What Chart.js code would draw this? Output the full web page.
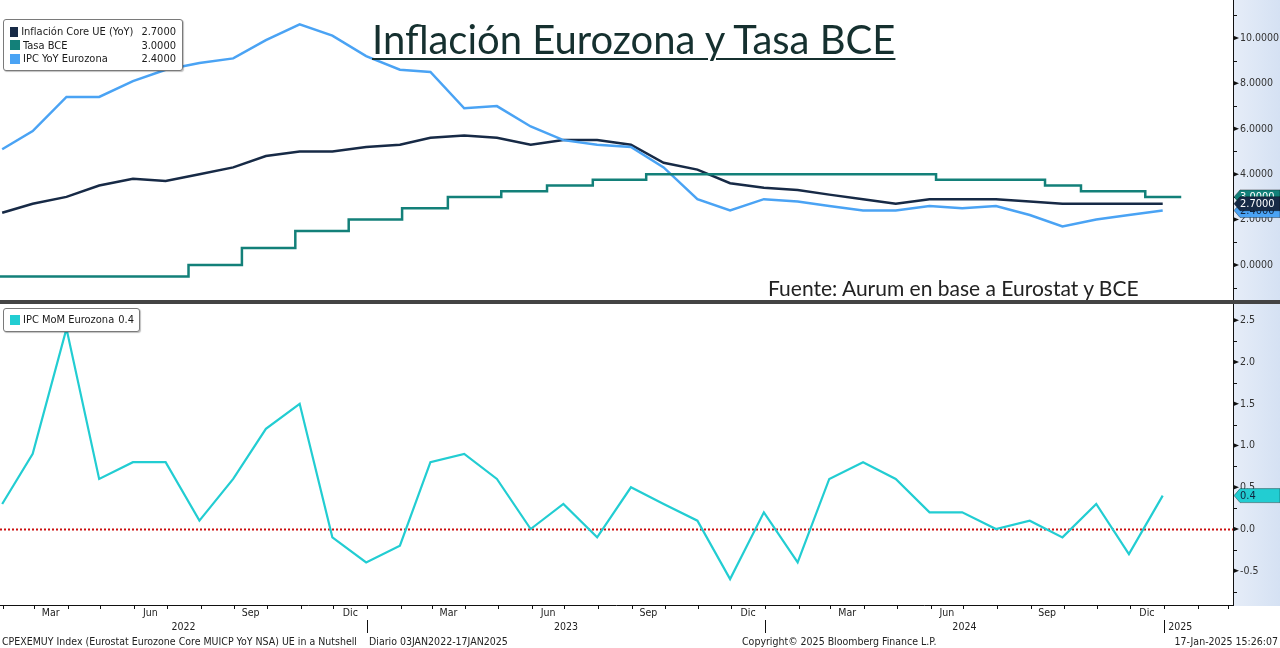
<!DOCTYPE html>
<html lang="es">
<head>
<meta charset="utf-8">
<title>Inflación Eurozona y Tasa BCE</title>
<script src="https://cdn.jsdelivr.net/npm/chart.js@4.4.1/dist/chart.umd.min.js"></script>
<style>
  body { margin: 0; width: 1280px; height: 648px; position: relative; overflow: hidden; background: #fff; font-family: "DejaVu Sans Condensed", "DejaVu Sans", sans-serif; color: #222; }
  .franja { position: absolute; left: 1233px; top: 0; width: 47px; height: 606px; background: linear-gradient(to right, #e6edf8, #d5e1f3); }
  .separador { position: absolute; left: 0; top: 300px; width: 1280px; height: 4px; background: #444; }
  #arriba { position: absolute; left: 0; top: 0; }
  #abajo { position: absolute; left: 0; top: 304px; }
  .titulo { position: absolute; left: 372px; top: 15px; font-family: Lato, sans-serif; font-size: 40px; color: #15302f; text-decoration: underline; text-decoration-thickness: 2px; text-underline-offset: 4px; white-space: nowrap; }
  .fuente { position: absolute; left: 768px; top: 275px; font-family: Lato, sans-serif; font-size: 21px; color: #222; white-space: nowrap; }
  .leyenda { position: absolute; background: #fff; border: 1px solid #7a7a7a; border-radius: 3px; box-shadow: 1px 1px 1px rgba(0,0,0,0.25); font-size: 11px; color: #1a1a1a; padding: 5px 6px 4px 6px; }
  .fila { display: flex; align-items: center; height: 13.5px; white-space: nowrap; }
  .cuadro { width: 10px; height: 10px; margin-right: 3px; }
  .valor { margin-left: auto; padding-left: 8px; }
  .pie { position: absolute; top: 635px; font-size: 10.5px; white-space: nowrap; color: #222; }
</style>
</head>
<body>
<div class="franja"></div>
<canvas id="arriba" width="1280" height="300"></canvas>
<div class="separador"></div>
<canvas id="abajo" width="1280" height="344"></canvas>

<div class="titulo">Inflación Eurozona y Tasa BCE</div>
<div class="fuente">Fuente: Aurum en base a Eurostat y BCE</div>

<div class="leyenda" style="left:3px;top:19px;width:166px">
  <div class="fila"><span class="cuadro" style="background:#172a46"></span><span>Inflación Core UE (YoY)</span><span class="valor" id="vCore"></span></div>
  <div class="fila"><span class="cuadro" style="background:#138079"></span><span>Tasa BCE</span><span class="valor" id="vTasa"></span></div>
  <div class="fila"><span class="cuadro" style="background:#4aa3f4"></span><span>IPC YoY Eurozona</span><span class="valor" id="vIpc"></span></div>
</div>
<div class="leyenda" style="left:3px;top:308px;padding:4px 5px 4px 6px">
  <div class="fila"><span class="cuadro" style="background:#22cdd2"></span><span>IPC MoM Eurozona</span><span id="vMom" style="padding-left:4px"></span></div>
</div>

<div class="pie" style="left:2px">CPEXEMUY Index (Eurostat Eurozone Core MUICP YoY NSA) UE in a Nutshell</div>
<div class="pie" style="left:369px">Diario 03JAN2022-17JAN2025</div>
<div class="pie" style="left:742px">Copyright© 2025 Bloomberg Finance L.P.</div>
<div class="pie" style="right:2px">17-Jan-2025 15:26:07</div>

<script>
// Datos mensuales (fin de mes)
const meses = [
  "2022-01", "2022-02", "2022-03", "2022-04", "2022-05", "2022-06", "2022-07", "2022-08", "2022-09", "2022-10", "2022-11", "2022-12",
  "2023-01", "2023-02", "2023-03", "2023-04", "2023-05", "2023-06", "2023-07", "2023-08", "2023-09", "2023-10", "2023-11", "2023-12",
  "2024-01", "2024-02", "2024-03", "2024-04", "2024-05", "2024-06", "2024-07", "2024-08", "2024-09", "2024-10", "2024-11", "2024-12",
]
const coreYoY = [2.3, 2.7, 3.0, 3.5, 3.8, 3.7, 4.0, 4.3, 4.8, 5.0, 5.0, 5.2, 5.3, 5.6, 5.7, 5.6, 5.3, 5.5, 5.5, 5.3, 4.5, 4.2, 3.6, 3.4, 3.3, 3.1, 2.9, 2.7, 2.9, 2.9, 2.9, 2.8, 2.7, 2.7, 2.7, 2.7]
const ipcYoY = [5.1, 5.9, 7.4, 7.4, 8.1, 8.6, 8.9, 9.1, 9.9, 10.6, 10.1, 9.2, 8.6, 8.5, 6.9, 7.0, 6.1, 5.5, 5.3, 5.2, 4.3, 2.9, 2.4, 2.9, 2.8, 2.6, 2.4, 2.4, 2.6, 2.5, 2.6, 2.2, 1.7, 2.0, 2.2, 2.4]
const ipcMoM = [0.3, 0.9, 2.4, 0.6, 0.8, 0.8, 0.1, 0.6, 1.2, 1.5, -0.1, -0.4, -0.2, 0.8, 0.9, 0.6, 0.0, 0.3, -0.1, 0.5, 0.3, 0.1, -0.6, 0.2, -0.4, 0.6, 0.8, 0.6, 0.2, 0.2, 0.0, 0.1, -0.1, 0.3, -0.3, 0.4]

// Tasa BCE (diaria, cambios)
const tasaFechas = ["2022-01-03", "2022-07-21", "2022-09-08", "2022-10-27", "2022-12-15", "2023-02-02", "2023-03-16", "2023-05-04", "2023-06-15", "2023-07-27", "2023-09-14", "2024-06-06", "2024-09-14", "2024-10-17", "2024-12-15", "2025-01-17"]
const tasaValores = [-0.5, 0.0, 0.75, 1.5, 2.0, 2.5, 3.0, 3.25, 3.5, 3.75, 4.0, 3.75, 3.5, 3.25, 3.0, 3.0]

// Ejes
const ticksArriba = [0, 2, 4, 6, 8, 10]
const menoresArriba = [-1, 1, 3, 5, 7, 9, 11]
const ticksAbajo = [-0.5, 0, 0.5, 1.0, 1.5, 2.0, 2.5]
const menoresAbajo = [-0.75, -0.25, 0.25, 0.75, 1.25, 1.75, 2.25]
const etiquetasMes = ["Mar", "Jun", "Sep", "Dic"]
const numerosMes = [3, 6, 9, 12]
const anios = [2022, 2023, 2024, 2025]
const fechaFin = "2025-01-17"

const colores = { core: "#172a46", tasa: "#138079", ipc: "#4aa3f4", mom: "#22cdd2" }

// dias desde 2022-01-01
const base = Date.UTC(2022, 0, 1)
const diaUTC = (y, m, d) => (Date.UTC(y, m - 1, d) - base) / 864e5
const dia = (s) => diaUTC(+s.slice(0, 4), +s.slice(5, 7), +s.slice(8, 10))
const finDeMes = (s) => diaUTC(+s.slice(0, 4), +s.slice(5, 7) + 1, 0)

const xMin = 28
const xMax = 28 + 1233 / 1.0897

const serie = (vals) => vals.map((v, i) => ({ x: finDeMes(meses[i]), y: v }))
const serieTasa = tasaFechas.map((f, i) => ({ x: dia(f), y: tasaValores[i] }))

document.getElementById("vCore").textContent = coreYoY[coreYoY.length - 1].toFixed(4)
document.getElementById("vTasa").textContent = tasaValores[tasaValores.length - 1].toFixed(4)
document.getElementById("vIpc").textContent = ipcYoY[ipcYoY.length - 1].toFixed(4)
document.getElementById("vMom").textContent = ipcMoM[ipcMoM.length - 1].toFixed(1)

function marcasEje(chart, mayores, menores) {
  const { ctx, chartArea, scales } = chart
  const x0 = chartArea.right
  ctx.save()
  ctx.strokeStyle = "#111"
  ctx.fillStyle = "#111"
  ctx.lineWidth = 1
  menores.forEach((v) => {
    const py = Math.round(scales.y.getPixelForValue(v)) + 0.5
    ctx.beginPath()
    ctx.moveTo(x0, py)
    ctx.lineTo(x0 + 4, py)
    ctx.stroke()
  })
  mayores.forEach((v) => {
    const py = scales.y.getPixelForValue(v)
    ctx.beginPath()
    ctx.moveTo(x0, py - 2.5)
    ctx.lineTo(x0 + 6, py)
    ctx.lineTo(x0, py + 2.5)
    ctx.closePath()
    ctx.fill()
  })
  ctx.restore()
}

function etiqueta(chart, valor, texto, fondo, colorTexto) {
  const { ctx, chartArea, scales } = chart
  const x0 = chartArea.right
  const y = scales.y.getPixelForValue(valor)
  ctx.save()
  ctx.beginPath()
  ctx.moveTo(x0 + 1, y)
  ctx.lineTo(x0 + 7, y - 7)
  ctx.lineTo(1280, y - 7)
  ctx.lineTo(1280, y + 7)
  ctx.lineTo(x0 + 7, y + 7)
  ctx.closePath()
  ctx.fillStyle = fondo
  ctx.fill()
  ctx.strokeStyle = "rgba(0,0,0,0.35)"
  ctx.lineWidth = 1
  ctx.stroke()
  ctx.fillStyle = colorTexto
  ctx.font = "11px 'DejaVu Sans Condensed'"
  ctx.textBaseline = "middle"
  ctx.fillText(texto, x0 + 7, y + 0.5)
  ctx.restore()
}

const ejeY = (min, max, mayores, decimales) => ({
  position: "right",
  min: min,
  max: max,
  afterFit: (s) => {
    s.width = 47
    // sin margen extra arriba/abajo por las etiquetas
    s.paddingTop = 0
    s.paddingBottom = 0
  },
  afterBuildTicks: (s) => { s.ticks = mayores.map((v) => ({ value: v })) },
  ticks: { callback: (v) => Number(v).toFixed(decimales), color: "#333", font: { size: 10.5, family: "DejaVu Sans Condensed" }, padding: 7, autoSkip: false },
  grid: { drawOnChartArea: false, drawTicks: false },
  border: { display: true, color: "#111", width: 1 },
})

const ejeX = { type: "linear", min: xMin, max: xMax, display: false }

// Panel superior
new Chart(document.getElementById("arriba"), {
  type: "line",
  data: {
    datasets: [
      { label: "Tasa BCE", data: serieTasa, borderColor: colores.tasa, borderWidth: 2.5, stepped: true, pointRadius: 0 },
      { label: "IPC YoY Eurozona", data: serie(ipcYoY), borderColor: colores.ipc, borderWidth: 2.5, pointRadius: 0, tension: 0 },
      { label: "Inflación Core UE (YoY)", data: serie(coreYoY), borderColor: colores.core, borderWidth: 2.5, pointRadius: 0, tension: 0 },
    ],
  },
  options: {
    responsive: false,
    animation: false,
    layout: { padding: 0 },
    plugins: { legend: { display: false }, tooltip: { enabled: false } },
    scales: { x: ejeX, y: ejeY(-1.54, 11.67, ticksArriba, 4) },
  },
  plugins: [{
    id: "ejeDerechoArriba",
    afterDraw(chart) {
      marcasEje(chart, ticksArriba, menoresArriba)
      etiqueta(chart, tasaValores[tasaValores.length - 1], tasaValores[tasaValores.length - 1].toFixed(4), colores.tasa, "#fff")
      etiqueta(chart, ipcYoY[ipcYoY.length - 1], ipcYoY[ipcYoY.length - 1].toFixed(4), colores.ipc, "#10243e")
      etiqueta(chart, coreYoY[coreYoY.length - 1], coreYoY[coreYoY.length - 1].toFixed(4), colores.core, "#fff")
    },
  }],
})

// Panel inferior
new Chart(document.getElementById("abajo"), {
  type: "line",
  data: {
    datasets: [
      { label: "IPC MoM Eurozona", data: serie(ipcMoM), borderColor: colores.mom, borderWidth: 2.2, pointRadius: 0, tension: 0 },
    ],
  },
  options: {
    responsive: false,
    animation: false,
    layout: { padding: { bottom: 43 } },
    plugins: { legend: { display: false }, tooltip: { enabled: false } },
    scales: { x: ejeX, y: ejeY(-0.91, 2.695, ticksAbajo, 1) },
  },
  plugins: [{
    id: "lineaCero",
    beforeDatasetsDraw(chart) {
      const { ctx, chartArea, scales } = chart
      const y0 = Math.round(scales.y.getPixelForValue(0)) + 0.5
      ctx.save()
      ctx.strokeStyle = "#cc1010"
      ctx.lineWidth = 2
      ctx.setLineDash([2, 2])
      ctx.beginPath()
      ctx.moveTo(chartArea.left, y0)
      ctx.lineTo(chartArea.right, y0)
      ctx.stroke()
      ctx.restore()
    },
  }, {
    id: "ejeFechas",
    afterDraw(chart) {
      const { ctx, chartArea, scales } = chart
      const sx = scales.x
      const b = chartArea.bottom
      ctx.save()
      ctx.strokeStyle = "#111"
      ctx.lineWidth = 1
      ctx.beginPath()
      ctx.moveTo(0, b + 0.5)
      ctx.lineTo(chartArea.right, b + 0.5)
      ctx.stroke()

      ctx.fillStyle = "#222"
      ctx.font = "10.5px 'DejaVu Sans Condensed'"
      ctx.textAlign = "center"
      ctx.textBaseline = "middle"
      anios.forEach((a) => {
        for (let m = 1; m <= 12; m++) {
          const d = diaUTC(a, m, 1)
          if (d < xMin || d > xMax) continue
          const px = Math.round(sx.getPixelForValue(d)) + 0.5
          ctx.beginPath()
          ctx.moveTo(px, b)
          ctx.lineTo(px, b + 4)
          ctx.stroke()
        }
        numerosMes.forEach((m, i) => {
          const mid = (diaUTC(a, m, 1) + diaUTC(a, m + 1, 1)) / 2
          if (mid < xMin || mid > xMax) return
          ctx.fillText(etiquetasMes[i], sx.getPixelForValue(mid), b + 8)
        })
        const ini = diaUTC(a, 1, 1)
        const fin = Math.min(diaUTC(a + 1, 1, 1), finDeMes(fechaFin), xMax)
        const izq = Math.max(ini, xMin)
        if (fin > izq) {
          ctx.fillText(String(a), (sx.getPixelForValue(izq) + sx.getPixelForValue(fin)) / 2, b + 22)
        }
        if (ini > xMin && ini < xMax) {
          const px = Math.round(sx.getPixelForValue(ini)) + 0.5
          ctx.beginPath()
          ctx.moveTo(px, b + 15)
          ctx.lineTo(px, b + 28)
          ctx.stroke()
        }
      })
      ctx.restore()

      marcasEje(chart, ticksAbajo, menoresAbajo)
      etiqueta(chart, ipcMoM[ipcMoM.length - 1], ipcMoM[ipcMoM.length - 1].toFixed(1), colores.mom, "#10243e")
    },
  }],
})
</script>
</body>
</html>
